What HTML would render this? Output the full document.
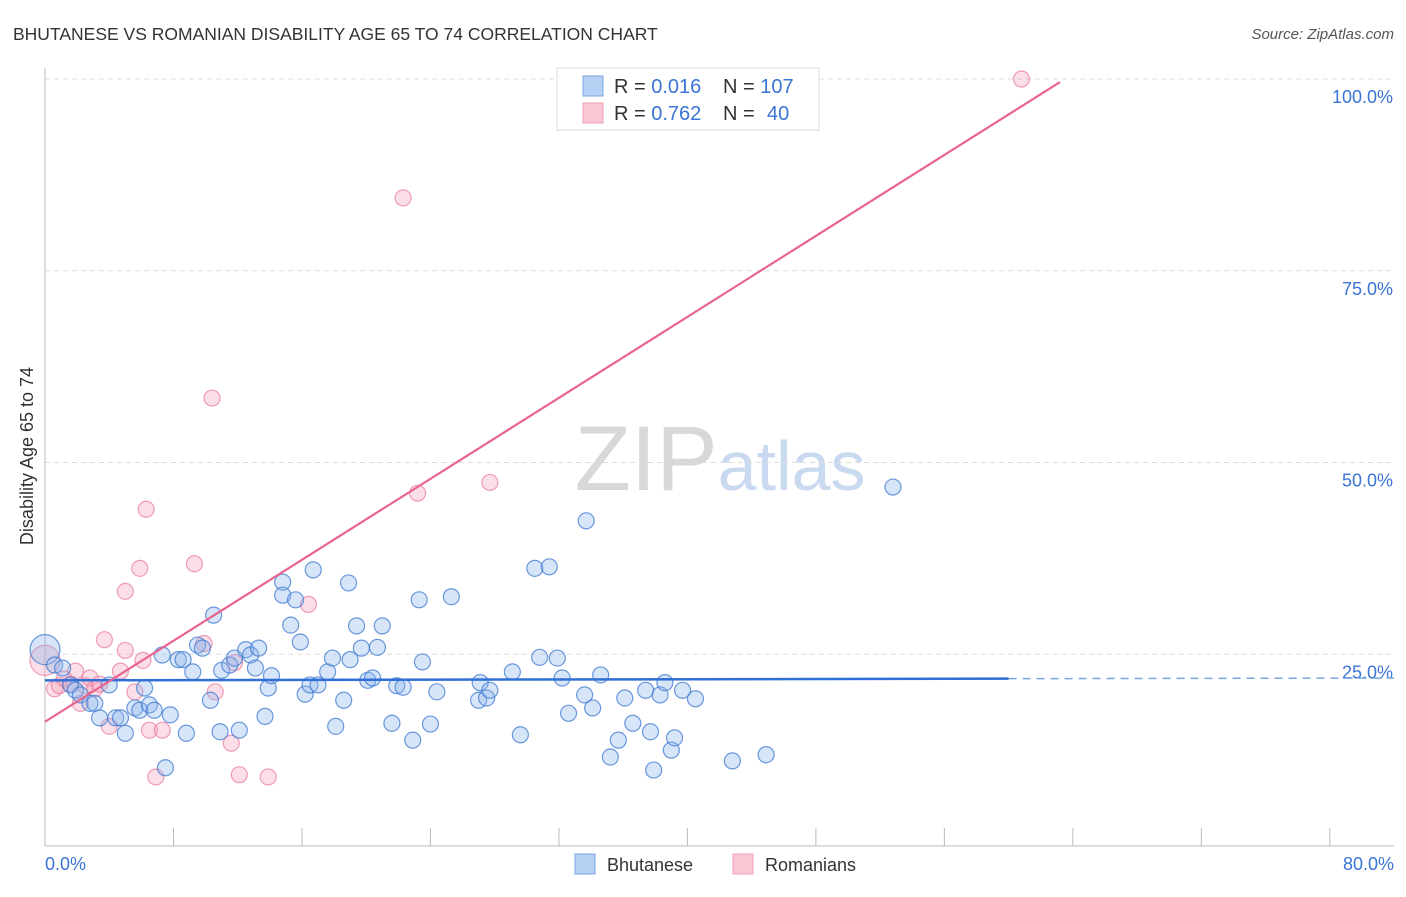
<!DOCTYPE html>
<html><head><meta charset="utf-8"><style>
body{margin:0;background:#fff;font-family:"Liberation Sans",sans-serif;}
svg text{font-family:"Liberation Sans",sans-serif;}
</style></head><body>
<svg id="chart" width="1406" height="892" xmlns="http://www.w3.org/2000/svg">
<text x="13" y="40" font-size="17.5" fill="#333">BHUTANESE VS ROMANIAN DISABILITY AGE 65 TO 74 CORRELATION CHART</text>
<text x="1394" y="39" font-size="15" fill="#555" text-anchor="end" font-style="italic">Source: ZipAtlas.com</text>
<text transform="translate(33,456) rotate(-90)" font-size="18" fill="#333" text-anchor="middle">Disability Age 65 to 74</text>
<text x="720" y="490" font-size="92" fill="#ddd" text-anchor="middle" font-family="Liberation Serif"><tspan fill="#d8d8d8">ZIP</tspan><tspan fill="#c9d9ef" font-family="Liberation Sans" font-size="70">atlas</tspan></text>
<g id="grid"></g><g id="axes"></g><g id="marks"></g>
<g>
<rect x="557" y="68" width="262" height="62" fill="#fff" stroke="#ddd"/>
<rect x="583" y="76" width="20" height="20" fill="#b6d1f3" stroke="#7aa6e0"/>
<rect x="583" y="103" width="20" height="20" fill="#f9c6d3" stroke="#eda0b5"/>
<text x="614" y="93" font-size="20" fill="#333">R = <tspan fill="#3a74d6">0.016</tspan></text>
<text x="723" y="93" font-size="20" fill="#333">N = <tspan fill="#3a74d6">107</tspan></text>
<text x="614" y="120" font-size="20" fill="#333">R = <tspan fill="#3a74d6">0.762</tspan></text>
<text x="723" y="120" font-size="20" fill="#333">N = </text>
<text x="767" y="120" font-size="20" fill="#3a74d6">40</text>
</g>
<g>
<rect x="575" y="854" width="20" height="20" fill="#b6d1f3" stroke="#7aa6e0"/>
<text x="607" y="871" font-size="18" fill="#333">Bhutanese</text>
<rect x="733" y="854" width="20" height="20" fill="#f9c6d3" stroke="#eda0b5"/>
<text x="765" y="871" font-size="18" fill="#333">Romanians</text>
</g>
</svg>
<script>
const yTicks=[25,50,75,100];
const xTickCount=10;
const blueX=[0,0.6,1.1,1.6,1.9,2.2,2.8,3.1,3.4,4.0,4.4,4.7,5.0,5.6,5.9,6.2,6.5,6.8,7.3,7.5,7.8,8.3,8.6,8.8,9.2,9.5,9.8,10.3,10.5,10.9,11.0,11.5,11.8,12.1,12.5,12.8,13.1,13.3,13.7,13.9,14.1,14.8,14.8,15.3,15.6,15.9,16.2,16.5,16.7,17.0,17.6,17.9,18.1,18.6,18.9,19.0,19.4,19.7,20.1,20.4,20.7,21.0,21.6,21.9,22.3,22.9,23.3,23.5,24.0,24.4,25.3,27.1,27.0,27.5,27.7,29.1,29.6,30.5,30.8,31.4,31.9,32.2,32.6,33.7,33.6,34.1,34.6,35.2,35.7,36.1,36.6,37.4,37.7,37.9,38.3,38.6,39.0,39.2,39.7,40.5,42.8,44.9,52.8];
const blueY=[25.6,23.6,23.2,21.0,20.3,19.7,18.6,18.6,16.7,21.0,16.7,16.7,14.7,18.0,17.7,20.6,18.4,17.7,24.9,10.2,17.1,24.3,24.3,14.7,22.7,26.2,25.8,19.0,30.1,14.9,22.9,23.6,24.5,15.1,25.6,24.9,23.2,25.8,16.9,20.6,22.2,34.4,32.7,28.8,32.1,26.6,19.8,21.0,36.0,21.0,22.7,24.5,15.6,19.0,34.3,24.3,28.7,25.8,21.6,21.9,25.9,28.7,16.0,20.9,20.7,13.8,32.1,24.0,15.9,20.1,32.5,21.3,19.0,19.3,20.3,22.7,14.5,36.2,24.6,36.4,24.5,21.9,17.3,42.4,19.7,18.0,22.3,11.6,13.8,19.3,16.0,20.3,14.9,9.9,19.7,21.3,12.5,14.1,20.3,19.2,11.1,11.9,46.8];
const pinkX=[0,0.6,0.9,1.2,1.6,1.9,2.2,2.5,2.8,3.1,3.4,3.7,4.0,4.7,5.0,5.0,5.6,5.9,6.1,6.3,6.5,6.9,7.3,9.3,9.9,10.4,10.6,11.6,11.8,12.1,13.9,16.4,22.3,23.2,27.7,60.8];
const pinkY=[24.2,20.5,20.9,21.8,21.1,22.8,18.6,20.9,21.9,20.5,21.1,26.9,15.6,22.8,25.5,33.2,20.1,36.2,24.2,43.9,15.1,9.0,15.1,36.8,26.4,58.4,20.1,13.4,23.9,9.3,9.0,31.5,84.5,46.0,47.4,100];
const blueTrend=[21.6,21.9];
const pinkTrend=[16.2,99.6,63.2];
const X=v=>45+v*16.06, Y=v=>846-v*7.67;
const NS="http://www.w3.org/2000/svg";
function mk(tag,attrs,parent){const e=document.createElementNS(NS,tag);for(const k in attrs)e.setAttribute(k,attrs[k]);parent.appendChild(e);return e;}
const grid=document.getElementById('grid'),axes=document.getElementById('axes'),marks=document.getElementById('marks');
yTicks.forEach(t=>{
 const l=mk('line',{x1:45,x2:1394,y1:Y(t),y2:Y(t),stroke:'#ddd','stroke-dasharray':'5,4'},grid);
 
 
 const tx=mk('text',{x:1393,y:Y(t)+24,'font-size':18,fill:'#3a74d6','text-anchor':'end'},axes);
 tx.textContent=t.toFixed(1)+'%';
 
 
});
const ax=mk('line',{x1:45,x2:45,y1:68,y2:846,stroke:'#bbb'},axes);


const bx=mk('line',{x1:45,x2:1394,y1:846,y2:846,stroke:'#bbb'},axes);


for(let i=0;i<=xTickCount;i++){const v=i*8;
 const t=mk('line',{x1:X(v),x2:X(v),y1:828,y2:846,stroke:'#bbb'},axes);
 
 }
const xl0=mk('text',{x:45,y:870,'font-size':18,fill:'#3a74d6'},axes);xl0.textContent='0.0%';


const xl1=mk('text',{x:1394,y:870,'font-size':18,fill:'#3a74d6','text-anchor':'end'},axes);xl1.textContent='80.0%';


pinkX.forEach((x,i)=>{const c=mk('circle',{cx:X(x),cy:Y(pinkY[i]),r:i==0?15:8,fill:'rgba(244,160,185,0.35)',stroke:'rgba(232,120,155,0.7)','stroke-width':1.2},marks);
 
 });
blueX.forEach((x,i)=>{const c=mk('circle',{cx:X(x),cy:Y(blueY[i]),r:i==0?15:8,fill:'rgba(140,180,235,0.35)',stroke:'rgba(60,120,210,0.75)','stroke-width':1.2},marks);
 
 });
const by=x=>blueTrend[0]+(blueTrend[1]-blueTrend[0])*x/84;
const b1=mk('line',{x1:X(0),y1:Y(by(0)),x2:X(60),y2:Y(by(60)),stroke:'#2f6fd6','stroke-width':2.5},marks);


const b2=mk('line',{x1:X(60),y1:Y(by(60)),x2:X(84),y2:Y(by(84)),stroke:'#7aa6e0','stroke-width':1.5,'stroke-dasharray':'8,6'},marks);


const p1=mk('line',{x1:X(0),y1:Y(pinkTrend[0]),x2:X(pinkTrend[2]),y2:Y(pinkTrend[1]),stroke:'#e8648f','stroke-width':2.2},marks);


</script>
</body></html>
